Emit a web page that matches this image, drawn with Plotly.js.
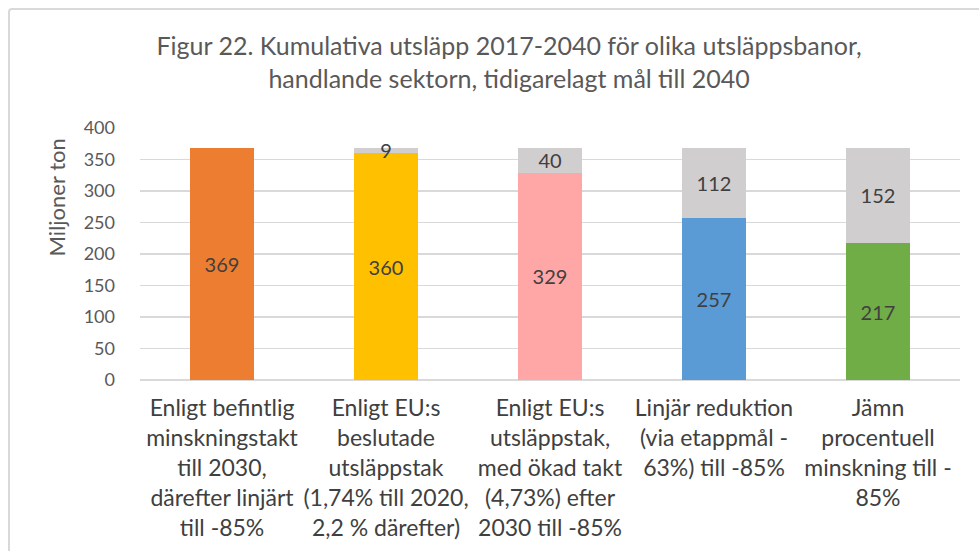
<!DOCTYPE html>
<html><head><meta charset="utf-8">
<script src="https://cdn.plot.ly/plotly-3.0.1.min.js"></script>
<style>
body{margin:0;padding:0;background:#fff;}
#wrap{position:relative;width:979px;height:551px;}
#chart{width:979px;height:551px;}
#frame{position:absolute;left:8px;top:8px;width:990px;height:560px;border:2px solid #d9d9d9;border-radius:4px;pointer-events:none;}
</style></head>
<body>
<div id="wrap"><div id="chart"></div><div id="frame"></div></div>
<script>
const categories = [
  "Enligt befintlig<br>minskningstakt<br>till 2030,<br>därefter linjärt<br>till -85%",
  "Enligt EU:s<br>beslutade<br>utsläppstak<br>(1,74% till 2020,<br>2,2 % därefter)",
  "Enligt EU:s<br>utsläppstak,<br>med ökad takt<br>(4,73%) efter<br>2030 till -85%",
  "Linjär reduktion<br>(via etappmål -<br>63%) till -85%",
  "Jämn<br>procentuell<br>minskning till -<br>85%"
];
const baseValues = [369, 360, 329, 257, 217];
const restValues = [0, 9, 40, 112, 152];
const restLabels = ["", "9", "40", "112", "152"];
const barColors = ["#ED7D31", "#FFC000", "#FFA7A7", "#5B9BD5", "#70AD47"];
const yTicks = [0, 50, 100, 150, 200, 250, 300, 350, 400];

const fam = "Lato, 'Open Sans', sans-serif";
const labelFont = {family: fam, size: 20, color: "#404040"};

const traces = [
  {type: "bar", x: categories, y: baseValues, marker: {color: barColors},
   text: baseValues.map(String), textposition: "inside", insidetextanchor: "middle", textangle: 0,
   constraintext: "none", textfont: labelFont, hoverinfo: "none", cliponaxis: false},
  {type: "bar", x: categories, y: restValues, marker: {color: "#D0CECE"},
   text: restLabels, textposition: "inside", insidetextanchor: "middle", textangle: 0,
   constraintext: "none", textfont: labelFont, hoverinfo: "none", cliponaxis: false}
];

const layout = {
  width: 979, height: 551,
  barmode: "stack", bargap: 0.61,
  showlegend: false,
  paper_bgcolor: "#fff", plot_bgcolor: "#fff",
  margin: {l: 140, r: 19, t: 128, b: 171},
  title: {text: "Figur 22. Kumulativa utsläpp 2017-2040 för olika utsläppsbanor,<br>handlande sektorn, tidigarelagt mål till 2040",
    font: {family: fam, size: 25, color: "#595959"},
    x: 0.52, xanchor: "center", y: 0.9, yanchor: "middle"},
  xaxis: {type: "category", tickangle: 0, tickfont: {family: fam, size: 23, color: "#404040"},
    showgrid: false, showline: false, ticks: "", automargin: false, ticklabelstandoff: 12},
  yaxis: {range: [0, 400], tickvals: yTicks, ticktext: yTicks.map(String),
    tickfont: {family: fam, size: 18, color: "#595959"},
    showgrid: true, gridcolor: "#d9d9d9", gridwidth: 1.5, zeroline: true, zerolinecolor: "#d9d9d9", zerolinewidth: 1.5,
    showline: false, ticks: "", automargin: false, ticklabelstandoff: 24},
  annotations: [{text: "Miljoner ton", xref: "paper", yref: "paper", x: -0.102, y: 0.726,
    xanchor: "center", yanchor: "middle", textangle: -90, showarrow: false,
    font: {family: fam, size: 22, color: "#595959"}}]
};

Plotly.newPlot("chart", traces, layout, {displayModeBar: false, staticPlot: true});
</script>
</body></html>
